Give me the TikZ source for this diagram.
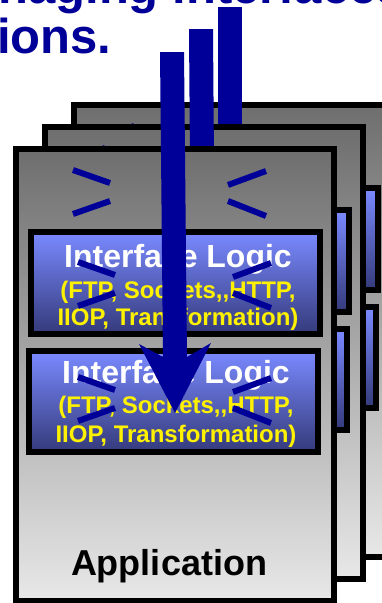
\documentclass[tikz,border=0pt]{standalone}
\usepackage{fontspec}
\setmainfont{Liberation Sans}
\usepackage{xcolor}
\usepackage{tikz}

\definecolor{barblue}{RGB}{0,0,153}
\definecolor{iftop}{RGB}{122,138,255}
\definecolor{ifbot}{RGB}{52,58,122}
\definecolor{cardtop}{RGB}{110,110,110}
\definecolor{cardbot}{RGB}{232,232,232}

\tikzset{
  cardframe/.style={line width=6pt, draw=black, top color=cardtop, bottom color=cardbot},
  ifframe/.style={line width=6pt, draw=black, top color=iftop, bottom color=ifbot},
  spark/.style={line width=6pt, barblue},
  headtext/.style={font=\fontsize{49}{49}\selectfont\bfseries, text=barblue, inner sep=0pt, anchor=base west},
  iftitle/.style={font=\fontsize{32}{32}\selectfont\bfseries, text=white, inner sep=0pt, anchor=base},
  ifsub/.style={font=\fontsize{24}{24}\selectfont\bfseries, text=yellow, inner sep=0pt, anchor=base},
  apptext/.style={font=\fontsize{36}{36}\selectfont\bfseries, text=black, inner sep=0pt, anchor=base}
}

% one application card with its two interface boxes
\newcommand{\appcard}{%
  \draw[cardframe] (16,149) rectangle (334,601);
  \draw[ifframe] (31,232) rectangle (320,334);
  \draw[ifframe] (29,351) rectangle (318,452);
}
% motion marks
\newcommand{\sparks}{%
  \foreach \yc/\xo in {192/0,284/5,399/5}{
    \draw[spark] (73+\xo,\yc-22) -- (110+\xo,\yc-9);
    \draw[spark] (73+\xo,\yc+22) -- (110+\xo,\yc+9);
    \draw[spark] (228+\xo,\yc-7) -- (266+\xo,\yc-21);
    \draw[spark] (228+\xo,\yc+9) -- (266+\xo,\yc+24);
  }%
}

\begin{document}
\begin{tikzpicture}[x=1pt,y=-1pt]
    \useasboundingbox (0,0) rectangle (382,603);
    \clip (0,0) rectangle (382,603);

    % Heading (cut by the page)
    \node[headtext] (head1) at (-70,3) {Managing interfaces};
    \node[headtext] (head2) at (-3,53) {ions.};

    % Back card
    \begin{scope}[shift={(58,-44)}]
        \appcard
        \sparks
    \end{scope}

    % Third bar, behind the middle card
    \coordinate (bar3) at (230,7);
    \fill[barblue] (218,7) -- (218,300) -- (242,300) -- (242,7) -- cycle;

    % Middle card
    \begin{scope}[shift={(29,-22)}]
        \appcard
        \sparks
    \end{scope}

    % Second bar, behind the front card
    \coordinate (bar2) at (201,29);
    \fill[barblue] (189,29) -- (191,300) -- (215,300) -- (213,29) -- cycle;

    % Front card
    \appcard
    \node[iftitle] (if1) at (178,267) {Interface Logic};
    \node[ifsub] (if1a) at (178,298) {(FTP, Sockets,\kern0pt,HTTP,};
    \node[ifsub] (if1b) at (178,325) {IIOP, Transformation)};
    \node[iftitle] (if2) at (176,383) {Interface Logic};
    \node[ifsub] (if2a) at (176,413) {(FTP, Sockets,\kern0pt,HTTP,};
    \node[ifsub] (if2b) at (176,442) {IIOP, Transformation)};
    \node[apptext] (app) at (169,575) {Application};
    \sparks

    % Arrow through the front card
    \coordinate (tip) at (175,413);
    \fill[barblue] (160,52) -- (163,357) -- (139,344) -- (tip)
        -- (211,343) -- (187,357) -- (184,52) -- cycle;
\end{tikzpicture}
\end{document}
